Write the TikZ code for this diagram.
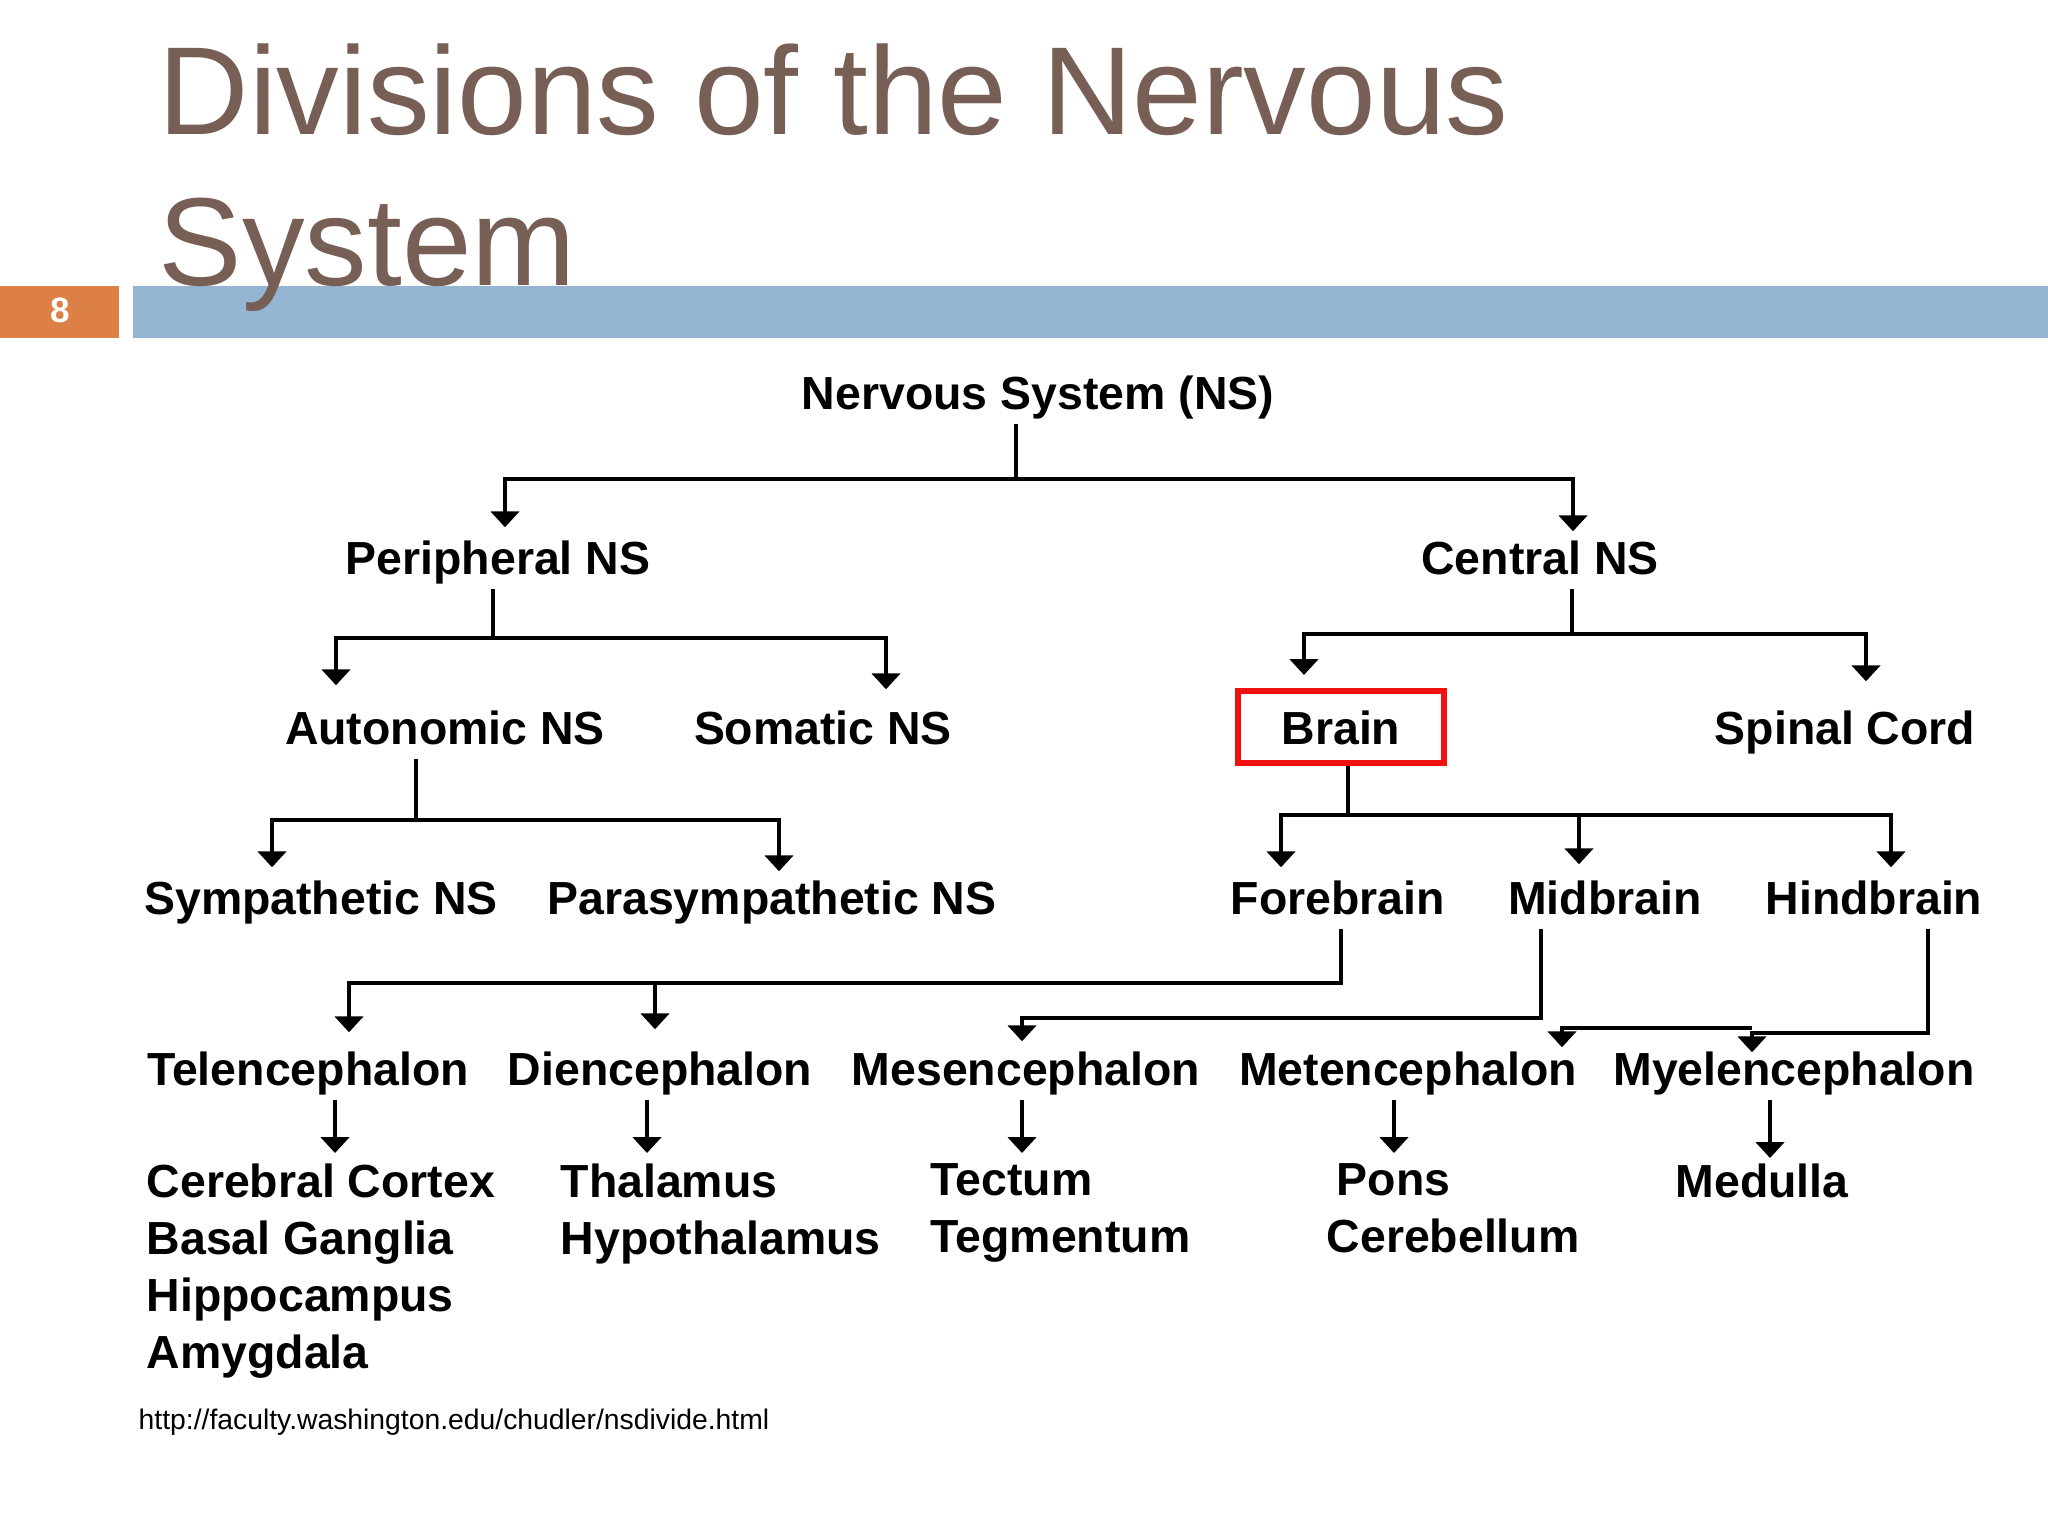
\documentclass[tikz,border=0pt]{standalone}
\usepackage{fontspec}
\setmainfont{Liberation Sans}
\usetikzlibrary{arrows.meta}

\definecolor{titlebrown}{HTML}{775F55}
\definecolor{barorange}{HTML}{DD8047}
\definecolor{barblue}{HTML}{94B6D2}
\definecolor{boxred}{HTML}{F01010}

\begin{document}
\begin{tikzpicture}[
  x={(0.01cm,0cm)},
  y={(0cm,-0.01cm)},
  division/.style={font=\bfseries\fontsize{13.2}{16.2}\selectfont,anchor=base,
    inner xsep=0pt,inner ysep=0.06cm,text height=0.34cm,text depth=0.08cm},
  parts/.style={font=\bfseries\fontsize{13.2}{16.2}\selectfont,anchor=north west,
    align=left,inner sep=0pt},
  stem/.style={draw=black,line width=1pt},
  link/.style={stem,-{Triangle[width=8pt,length=4.5pt]}}
]
  \fill[white] (0,0) rectangle (2048,1536);
  \useasboundingbox (0,0) rectangle (2048,1536);

  % Slide header.
  \fill[barorange] (0,286) rectangle (119,338);
  \fill[barblue] (133,286) rectangle (2048,338);
  \node[white,font=\bfseries\fontsize{10}{10}\selectfont,anchor=base,inner sep=0pt] (page) at (60,322) {8};
  \node[titlebrown,font=\fontsize{35.6}{43}\selectfont,anchor=north west,align=left,inner sep=0pt]
    (title) at (158,43) {Divisions of the Nervous\\System};

  % Divisions, row by row.
  \node[division] (ns) at (1038,409) {Nervous System (NS)};

  \node[division] (pns) at (498,574) {Peripheral NS};
  \node[division] (cns) at (1540,574) {Central NS};

  \node[division] (ans) at (445,744) {Autonomic NS};
  \node[division] (sns) at (823,744) {Somatic NS};
  \node[division,text depth=0pt,draw=boxred,line width=1.7pt,
        minimum width=2.06cm,minimum height=0.72cm] (brain) at (1341,744) {Brain};
  \node[division] (spc) at (1845,744) {Spinal Cord};

  \node[division] (sym) at (321,914) {Sympathetic NS};
  \node[division] (para) at (772,914) {Parasympathetic NS};
  \node[division] (fore) at (1338,914) {Forebrain};
  \node[division] (mid) at (1605,914) {Midbrain};
  \node[division] (hind) at (1874,914) {Hindbrain};

  \node[division] (tel) at (308,1085) {Telencephalon};
  \node[division] (die) at (660,1085) {Diencephalon};
  \node[division] (mes) at (1026,1085) {Mesencephalon};
  \node[division] (met) at (1408,1085) {Metencephalon};
  \node[division] (mye) at (1794,1085) {Myelencephalon};

  % Structures of each part.
  \node[parts] (telp) at (146,1163) {Cerebral Cortex\\Basal Ganglia\\Hippocampus\\Amygdala};
  \node[parts] (diep) at (560,1163) {Thalamus\\Hypothalamus};
  \node[parts] (mesp) at (930,1163) {Tectum\\Tegmentum};
  \node[parts] (metp) at (1326,1163) {\hspace{0.1cm}Pons\\Cerebellum};
  \node[parts] (myep) at (1675,1163) {Medulla};

  \node[font=\fontsize{8.05}{9}\selectfont,anchor=base west,inner sep=0pt]
    (src) at (138,1429) {http://faculty.washington.edu/chudler/nsdivide.html};

  % Junctions below each parent.
  \coordinate (j-ns) at (1016,479);
  \coordinate (j-pns) at (493,638);
  \coordinate (j-cns) at (1572,634);
  \coordinate (j-ans) at (416,820);
  \coordinate (j-brain) at (1348,815);
  \coordinate (j-fore) at (1341,983);
  \coordinate (j-mid) at (1541,1018);
  \coordinate (j-hind) at (1928,1033);
  \coordinate (j-hind2) at (1752,1028);

  % Arrow tips above each child.
  \coordinate (in-pns) at ([shift={(7,-6)}]pns.north);
  \coordinate (in-cns) at ([shift={(33,-2)}]cns.north);
  \coordinate (in-ans) at ([shift={(-109,-18)}]ans.north);
  \coordinate (in-sns) at ([shift={(63,-14)}]sns.north);
  \coordinate (in-brain) at ([shift={(-37,-13)}]brain.north);
  \coordinate (in-spc) at ([shift={(21,-22)}]spc.north);
  \coordinate (in-sym) at ([shift={(-49,-6)}]sym.north);
  \coordinate (in-para) at ([shift={(7,-2)}]para.north);
  \coordinate (in-fore) at ([shift={(-57,-6)}]fore.north);
  \coordinate (in-mid) at ([shift={(-26,-9)}]mid.north);
  \coordinate (in-hind) at ([shift={(17,-6)}]hind.north);
  \coordinate (in-tel) at ([shift={(41,-12)}]tel.north);
  \coordinate (in-die) at ([shift={(-5,-15)}]die.north);
  \coordinate (in-mes) at ([shift={(-4,-3)}]mes.north);
  \coordinate (in-met) at ([shift={(154,3)}]met.north);
  \coordinate (in-mye) at ([shift={(-42,8)}]mye.north);
  \coordinate (in-telp) at ([shift={(189,-10)}]telp.north west);
  \coordinate (in-diep) at ([shift={(87,-10)}]diep.north west);
  \coordinate (in-mesp) at ([shift={(92,-10)}]mesp.north west);
  \coordinate (in-metp) at ([shift={(68,-10)}]metp.north west);
  \coordinate (in-myep) at ([shift={(95,-5)}]myep.north west);

  % Nervous system.
  \draw[stem] (ns.south -| j-ns) -- (j-ns);
  \draw[link] (j-ns) -| (in-pns);
  \draw[link] (j-ns) -| (in-cns);

  % Peripheral and central.
  \draw[stem] (pns.south -| j-pns) -- (j-pns);
  \draw[link] (j-pns) -| (in-ans);
  \draw[link] (j-pns) -| (in-sns);
  \draw[stem] (cns.south -| j-cns) -- (j-cns);
  \draw[link] (j-cns) -| (in-brain);
  \draw[link] (j-cns) -| (in-spc);

  % Autonomic and brain.
  \draw[stem] (ans.south -| j-ans) -- (j-ans);
  \draw[link] (j-ans) -| (in-sym);
  \draw[link] (j-ans) -| (in-para);
  \draw[stem] (brain.south -| j-brain) -- (j-brain);
  \draw[link] (j-brain) -| (in-fore);
  \draw[link] (j-brain) -| (in-mid);
  \draw[link] (j-brain) -| (in-hind);

  % Fore-, mid- and hindbrain.
  \draw[link] (fore.south -| j-fore) -- (j-fore) -| (in-tel);
  \draw[link] (in-die |- j-fore) -- (in-die);
  \draw[link] (mid.south -| j-mid) -- (j-mid) -| (in-mes);
  \draw[link] (hind.south -| j-hind) -- (j-hind) -| (in-mye);
  \draw[link] (j-hind2) -| (in-met);

  % Down to the structures.
  \draw[link] (tel.south -| in-telp) -- (in-telp);
  \draw[link] (die.south -| in-diep) -- (in-diep);
  \draw[link] (mes.south -| in-mesp) -- (in-mesp);
  \draw[link] (met.south -| in-metp) -- (in-metp);
  \draw[link] (mye.south -| in-myep) -- (in-myep);
\end{tikzpicture}
\end{document}
